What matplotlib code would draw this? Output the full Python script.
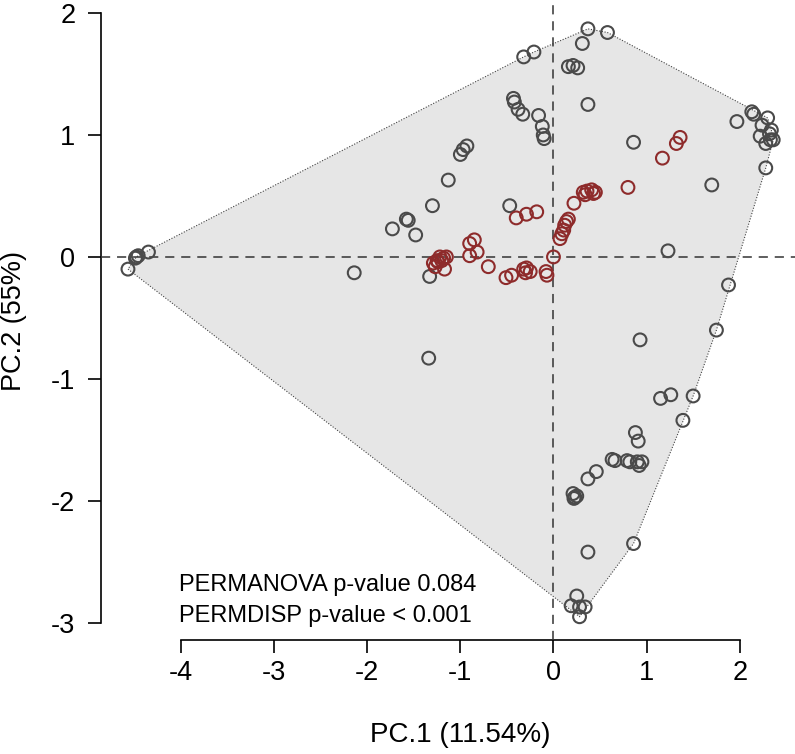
import numpy as np
import matplotlib.pyplot as plt

plt.rcParams['font.family'] = ['Liberation Sans', 'DejaVu Sans']

# PCoA scores
grey_x = [-4.57, -4.48, -4.46, -4.49, -4.35,
          -2.14, -1.73, -1.58, -1.56, -1.48, -1.30, -1.13, -1.33, -1.34, -0.47,
          -1.00, -0.97, -0.93,
          0.37, 0.58, 0.31, -0.32, -0.21, 0.16, 0.21, 0.26, 0.37,
          -0.43, -0.42, -0.38, -0.33, -0.16, -0.12, -0.11, -0.10,
          0.86, 1.23, 1.70, 1.97, 2.13, 2.15, 2.30, 2.24, 2.34, 2.32, 2.22, 2.36, 2.33, 2.28, 2.28,
          1.88, 1.75, 0.93, 1.15, 1.26, 1.50, 1.39, 0.88, 0.91, 0.63, 0.66, 0.79, 0.82, 0.90, 0.92, 0.95,
          0.37, 0.46, 0.21, 0.23, 0.25, 0.22, 0.37, 0.86, 0.25, 0.19, 0.28, 0.34, 0.28]
grey_y = [-0.10, 0.00, 0.01, -0.01, 0.04,
          -0.13, 0.23, 0.31, 0.30, 0.18, 0.42, 0.63, -0.16, -0.83, 0.42,
          0.84, 0.88, 0.91,
          1.87, 1.84, 1.75, 1.64, 1.68, 1.56, 1.57, 1.55, 1.25,
          1.30, 1.27, 1.21, 1.17, 1.16, 1.07, 1.00, 0.97,
          0.94, 0.05, 0.59, 1.11, 1.19, 1.17, 1.14, 1.08, 1.04, 1.01, 0.99, 0.96, 0.96, 0.93, 0.73,
          -0.23, -0.60, -0.68, -1.16, -1.13, -1.14, -1.34, -1.44, -1.51, -1.66, -1.67, -1.67, -1.68, -1.68, -1.71, -1.68,
          -1.82, -1.76, -1.94, -1.97, -1.96, -1.98, -2.42, -2.35, -2.78, -2.86, -2.87, -2.87, -2.95]

red_x = [-1.29, -1.25, -1.22, -1.18, -1.15, -1.27, -1.17, -1.24, -1.20,
         -0.90, -0.85, -0.90, -0.82, -0.70, -0.51, -0.45,
         -0.32, -0.29, -0.25, -0.30, -0.08, -0.07, 0.00,
         -0.40, -0.29, -0.18,
         0.07, 0.09, 0.11, 0.12, 0.14, 0.16, 0.22,
         0.32, 0.36, 0.41, 0.45, 0.43, 0.34,
         0.80, 1.17, 1.32, 1.36]
red_y = [-0.05, -0.03, 0.00, -0.01, 0.00, -0.08, -0.10, -0.04, -0.03,
         0.11, 0.14, 0.01, 0.04, -0.08, -0.17, -0.15,
         -0.10, -0.09, -0.12, -0.13, -0.12, -0.15, 0.00,
         0.32, 0.35, 0.37,
         0.15, 0.19, 0.22, 0.26, 0.29, 0.31, 0.44,
         0.53, 0.54, 0.55, 0.53, 0.52, 0.51,
         0.57, 0.81, 0.93, 0.98]

x_ticks = [-4, -3, -2, -1, 0, 1, 2]
y_ticks = [-3, -2, -1, 0, 1, 2]


def convex_hull(px, py):
    pts = sorted(set(zip(px, py)))

    def cross(o, a, b):
        return (a[0] - o[0]) * (b[1] - o[1]) - (a[1] - o[1]) * (b[0] - o[0])

    lower, upper = [], []
    for p in pts:
        while len(lower) >= 2 and cross(lower[-2], lower[-1], p) <= 0:
            lower.pop()
        lower.append(p)
    for p in reversed(pts):
        while len(upper) >= 2 and cross(upper[-2], upper[-1], p) <= 0:
            upper.pop()
        upper.append(p)
    return np.array(lower[:-1] + upper[:-1])


fig = plt.figure(figsize=(7.95, 7.54), dpi=100)
ax = fig.add_axes([0.127, 0.151, 0.873, 0.846])

hull = convex_hull(grey_x, grey_y)
ax.fill(hull[:, 0], hull[:, 1], facecolor='#e6e6e6', edgecolor='none', zorder=1)
ax.plot(np.append(hull[:, 0], hull[0, 0]), np.append(hull[:, 1], hull[0, 1]),
        color='#444444', lw=0.8, ls=(0, (1, 1.5)), zorder=2)

ax.axhline(0, color='#333333', lw=1.1, ls=(0, (6, 4.5)), zorder=3)
ax.axvline(0, color='#333333', lw=1.1, ls=(0, (6, 4.5)), zorder=3)

ax.scatter(grey_x, grey_y, s=85, facecolors='none', edgecolors='#4a4a4a', linewidths=1.5, zorder=4)
ax.scatter(red_x, red_y, s=85, facecolors='none', edgecolors='#8e2b2b', linewidths=1.5, zorder=5)

ax.text(-4.02, -2.69, 'PERMANOVA p-value 0.084', fontsize=17, va='center', ha='left')
ax.text(-4.02, -2.94, 'PERMDISP p-value < 0.001', fontsize=17, va='center', ha='left')

ax.set_xlim(-4.86, 2.594)
ax.set_ylim(-3.142, 2.088)

for s in ['top', 'right']:
    ax.spines[s].set_visible(False)
ax.spines['left'].set_bounds(-3, 2)
ax.spines['bottom'].set_bounds(-4, 2)
ax.spines['left'].set_linewidth(1.2)
ax.spines['bottom'].set_linewidth(1.2)

ax.set_xticks(x_ticks)
ax.set_yticks(y_ticks)
ax.set_xticklabels([str(t) for t in x_ticks])
ax.set_yticklabels([str(t) for t in y_ticks])
ax.tick_params(direction='out', length=9.5, width=1.2, labelsize=19.5)
ax.tick_params(axis='x', pad=5)
ax.tick_params(axis='y', pad=9)

ax.set_xlabel('PC.1 (11.54%)', fontsize=20)
ax.set_ylabel('PC.2 (55%)', fontsize=19.5)
ax.xaxis.set_label_coords(0.517, -0.128)
ax.yaxis.set_label_coords(-0.107, 0.5)

fig.savefig('out.png', dpi=100)
